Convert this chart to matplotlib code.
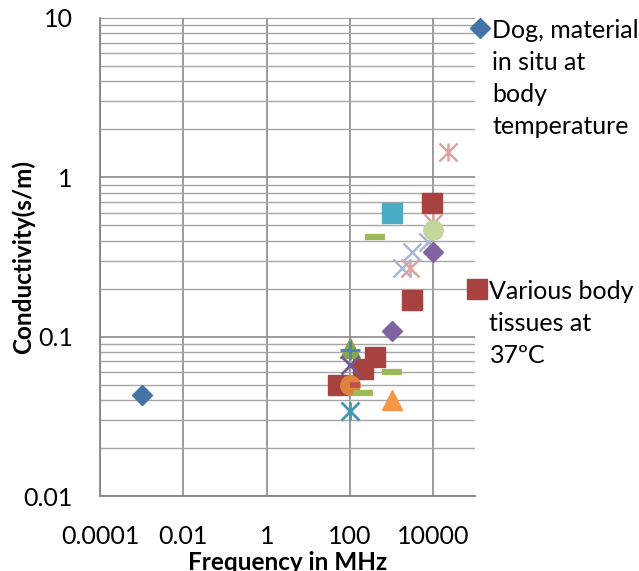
import matplotlib; matplotlib.use("Agg")
import matplotlib.pyplot as plt
from matplotlib.path import Path
from matplotlib.offsetbox import HPacker
import numpy as np

plt.rcParams.update({"font.family": ["Lato", "DejaVu Sans"], "font.size": 18})

# values (frequency in MHz, conductivity in S/m)
dog_f = [0.001]
dog_s = [0.043]
tissue_f = [9000, 3000, 400, 200, 50]
tissue_s = [0.69, 0.17, 0.075, 0.063, 0.05]
tri_f, tri_s = [100], [0.085]
purx_f, purx_s = [100], [0.066]
teal_f, teal_s = [100], [0.034]
ocirc_f, ocirc_s = [100], [0.05]
plus_f, plus_s = [100], [0.083]
rdash_f, rdash_s = [130], [0.05]
gdash_f = [400, 1000, 200]
gdash_s = [0.42, 0.06, 0.044]
otri_f, otri_s = [1000], [0.04]
ltbx_f = [3100, 1800, 7500]
ltbx_s = [0.34, 0.27, 0.39]
pink_f = [23000, 2700, 10000]
pink_s = [1.45, 0.27, 0.52]
pdia_f = [1000, 10000]
pdia_s = [0.108, 0.34]
csq_f, csq_s = [1000], [0.60]
lgc_f, lgc_s = [10000], [0.47]

xticks = [1e-4, 1e-2, 1, 100, 1e4]
xticklabels = ["0.0001", "0.01", "1", "100", "10000"]
yticks = [0.01, 0.1, 1, 10]
yticklabels = ["0.01", "0.1", "1", "10"]

# excel style "star" marker: an x with a vertical bar
star = Path([(-1, -1), (1, 1), (-1, 1), (1, -1), (0, -1), (0, 1)],
            [Path.MOVETO, Path.LINETO, Path.MOVETO, Path.LINETO, Path.MOVETO, Path.LINETO])

fig = plt.figure(figsize=(6.39, 5.71), dpi=100)
ax = fig.add_axes([0.1565, 0.1313, 0.587, 0.8372])

def pts(f, s, **kw):
    return ax.plot(f, s, ls="none", **kw)[0]

h_dog = pts(dog_f, dog_s, marker="D", ms=10.5, color="#4572A7", label="Dog, material\nin situ at\nbody\ntemperature")
h_tis = pts(tissue_f, tissue_s, marker="s", ms=14, color="#A8423F", label="Various body\ntissues at\n37ºC")
pts(tri_f, tri_s, marker="^", ms=14, color="#89A54E")
pts(purx_f, purx_s, marker="x", ms=13, mew=2, color="#71588F")
pts(teal_f, teal_s, marker=star, ms=13, mew=2, color="#4198AF")
pts(ocirc_f, ocirc_s, marker="o", ms=14, color="#DB843D")
pts(plus_f, plus_s, marker="+", ms=14, mew=2, color="#4F81BD")
pts(rdash_f, rdash_s, marker="_", ms=7, mew=4, color="#C0504D")
pts(gdash_f, gdash_s, marker="_", ms=14, mew=4.5, color="#9BBB59")
pts(otri_f, otri_s, marker="^", ms=14, color="#F79646")
pts(ltbx_f, ltbx_s, marker="x", ms=13, mew=1.8, color="#A5B8DA")
pts(pink_f, pink_s, marker=star, ms=13, mew=1.8, color="#DDA3A2")
pts(pdia_f, pdia_s, marker="D", ms=10.5, color="#8064A2")
pts(csq_f, csq_s, marker="s", ms=14, color="#4BACC6")
pts(lgc_f, lgc_s, marker="o", ms=14, color="#C3D69B")

ax.set_xscale("log")
ax.set_yscale("log")
ax.set_xlim(1e-4, 1e5)
ax.set_ylim(0.01, 10)
ax.set_xticks(xticks, xticklabels)
ax.set_yticks(yticks, yticklabels)
ax.minorticks_off()
ax.set_yticks([m * 10.0 ** e for e in (-2, -1, 0) for m in range(2, 10)], minor=True)
ax.tick_params(which="both", length=0)
ax.tick_params(axis="x", pad=21)
ax.tick_params(axis="y", pad=19.5)
ax.grid(True, which="major", color="#8a8a8a", lw=1.2)
ax.grid(True, which="minor", axis="y", color="#a6a6a6", lw=1.0)
ax.set_axisbelow(True)
for s in ("top", "right"):
    ax.spines[s].set_visible(False)
for s in ("left", "bottom"):
    ax.spines[s].set_color("#868686")
    ax.spines[s].set_linewidth(1.3)

ax.set_xlabel("Frequency in MHz", fontweight="bold", fontsize=17.5)
ax.set_ylabel("Conductivity(s/m)", fontweight="bold", fontsize=17.5)
ax.xaxis.set_label_coords(0.5, -0.116)
ax.yaxis.set_label_coords(-0.172, 0.5)

# two separate legend blocks, marker level with first line like in excel
for h, anchor in ((h_dog, (0.7394, 0.967)), (h_tis, (0.7347, 0.51))):
    leg = fig.legend(handles=[h], loc="upper left", bbox_to_anchor=anchor, frameon=False,
                     handlelength=0.6, handletextpad=0.2, borderaxespad=0, borderpad=0,
                     fontsize=18)
    for t in leg.get_texts():
        t.set_linespacing(1.48)
    for hp in leg.findobj(HPacker):
        hp.align = "top"

fig.savefig("out.png", dpi=100)
